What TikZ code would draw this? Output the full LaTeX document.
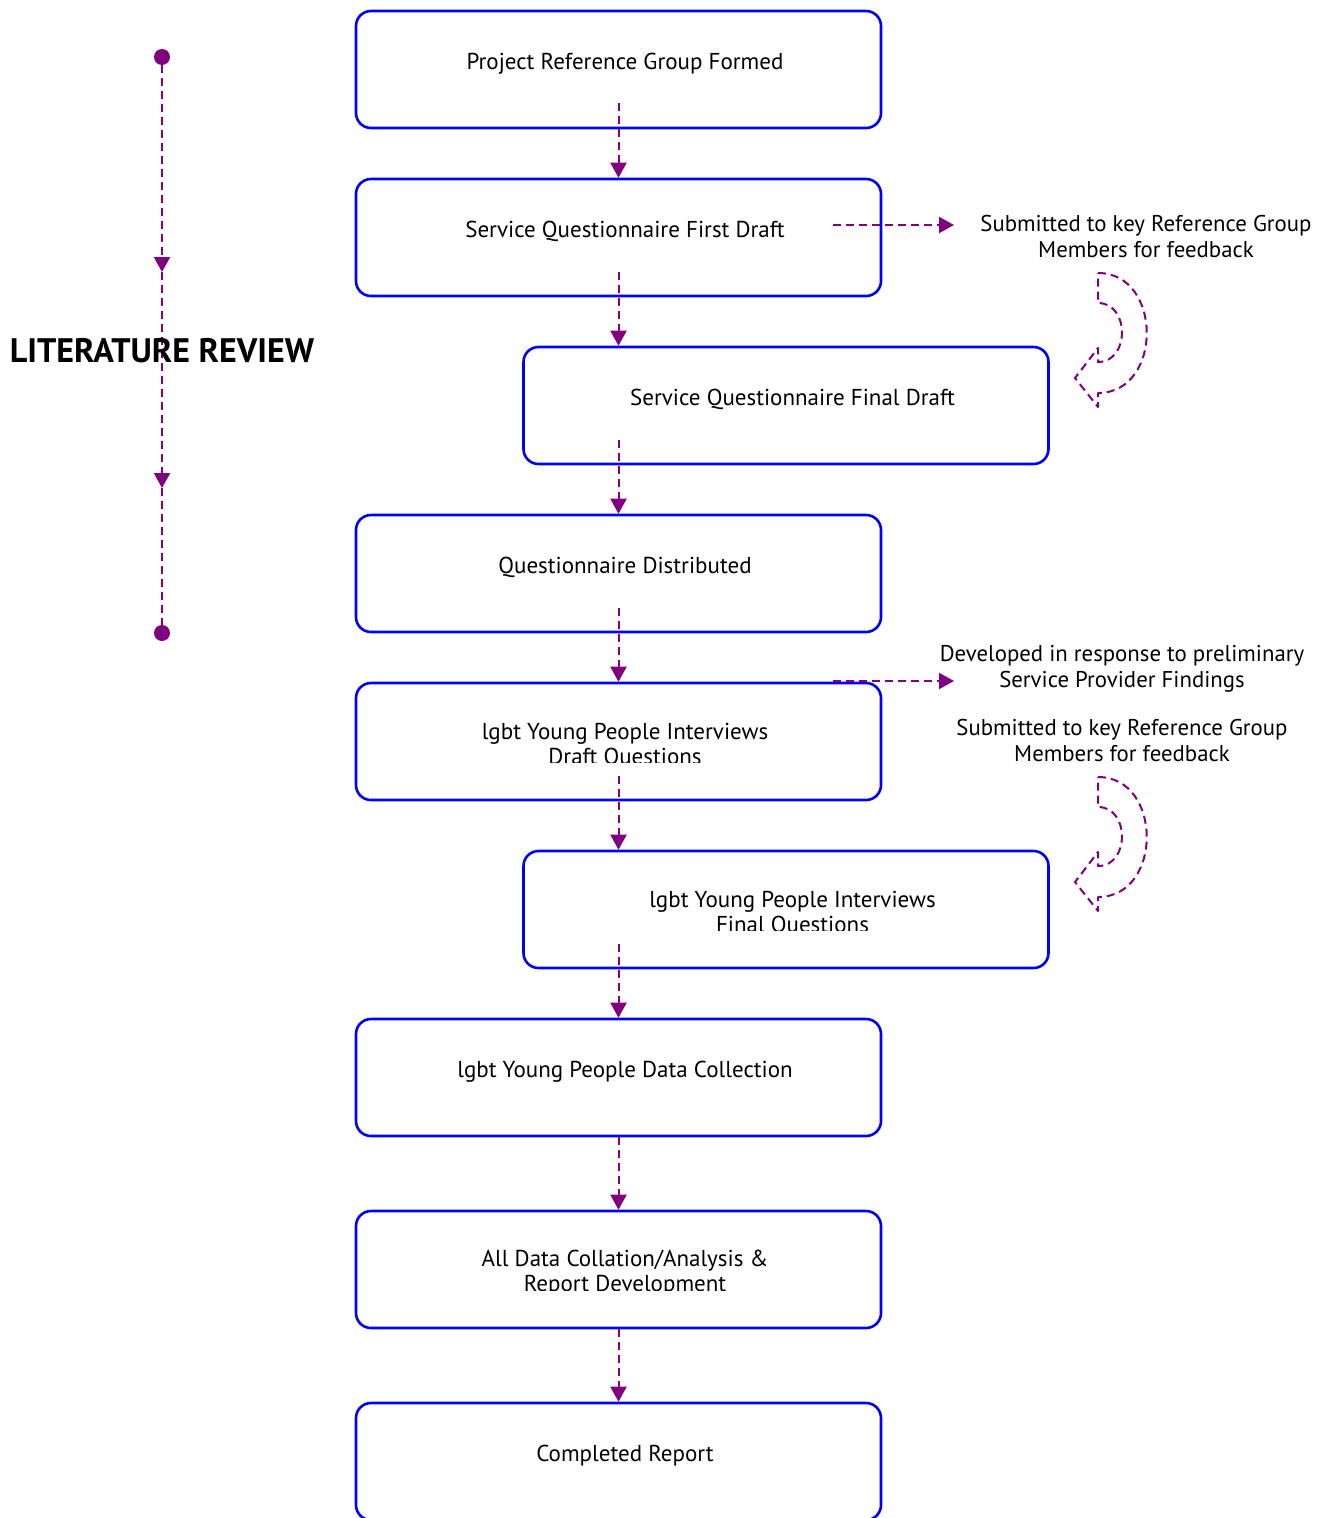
\documentclass[tikz,border=0pt]{standalone}
\usepackage{fontspec}
\setmainfont{PT Sans}
\usetikzlibrary{arrows.meta,calc}
\definecolor{boxblue}{RGB}{0,0,255}
\definecolor{flowpurple}{RGB}{128,0,128}
\begin{document}
\begin{tikzpicture}[x=1pt,y=-1pt,
  stagebox/.style={draw=boxblue,line width=2.6pt,rounded corners=15pt,minimum width=525pt,minimum height=117pt,inner sep=0pt},
  flow/.style={draw=flowpurple,line width=2pt,dash pattern=on 8pt off 5pt,-{Triangle[length=15pt,width=16pt]}},
  plainflow/.style={draw=flowpurple,line width=2pt,dash pattern=on 8pt off 5pt},
  lbl/.style={font=\fontsize{23}{25}\selectfont,align=center,inner sep=0pt},
  sidelbl/.style={font=\fontsize{22.8}{26}\selectfont,align=center,inner sep=0pt},
  bigt/.style={font=\fontsize{34}{38}\selectfont\bfseries,inner sep=0pt},
  curvy/.style={draw=flowpurple,line width=2pt,dash pattern=on 8pt off 5pt,line join=round},
  enddot/.style={circle,fill=flowpurple,minimum size=16pt,inner sep=0pt}
]
\clip (0,0) rectangle (1318,1518);
\fill[white] (0,0) rectangle (1318,1518);

% boxes
\node[stagebox] (b1) at (618.5,69.5) {};
\node[stagebox] (b2) at (618.5,237.5) {};
\node[stagebox] (b3) at (786,405.5) {};
\node[stagebox] (b4) at (618.5,573.5) {};
\node[stagebox] (b5) at (618.5,741.5) {};
\node[stagebox] (b6) at (786,909.5) {};
\node[stagebox] (b7) at (618.5,1077.5) {};
\node[stagebox] (b8) at (618.5,1269.5) {};
\node[stagebox] (b9) at (618.5,1461.5) {};

% texts
\node[lbl] (t1) at ($(b1.center)+(6.5,-6)$) {Project Reference Group Formed};
\node[lbl] (t2) at ($(b2.center)+(6.5,-6)$) {Service Questionnaire First Draft};
\node[lbl] (t3) at ($(b3.center)+(6.5,-6)$) {Service Questionnaire Final Draft};
\node[lbl] (t4) at ($(b4.center)+(6.5,-6)$) {Questionnaire Distributed};
\begin{scope}
\clip (357,684) rectangle (880,762);
\node[lbl] (t5) at ($(b5.center)+(6.5,4)$) {lgbt Young People Interviews\\Draft Questions};
\end{scope}
\begin{scope}
\clip (524,852) rectangle (1048,930);
\node[lbl] (t6) at ($(b6.center)+(6.5,4)$) {lgbt Young People Interviews\\Final Questions};
\end{scope}
\node[lbl] (t7) at ($(b7.center)+(6.5,-6)$) {lgbt Young People Data Collection};
\begin{scope}
\clip (357,1212) rectangle (880,1290);
\node[lbl] (t8) at ($(b8.center)+(6.5,4)$) {All Data Collation/Analysis \&\\Report Development};
\end{scope}
\node[lbl] (t9) at ($(b9.center)+(6.5,-6)$) {Completed Report};

% vertical flow arrows
\draw[flow] ($(b1.south)+(0,-26)$) -- (b2.north);
\draw[flow] ($(b2.south)+(0,-25)$) -- (b2.south |- b3.north);
\draw[flow] ($(b4.north |- b3.south)+(0,-25)$) -- (b4.north);
\draw[flow] ($(b4.south)+(0,-25)$) -- (b5.north);
\draw[flow] ($(b5.south)+(0,-25)$) -- (b5.south |- b6.north);
\draw[flow] ($(b7.north |- b6.south)+(0,-25)$) -- (b7.north);
\draw[flow] (b7.south) -- (b8.north);
\draw[flow] (b8.south) -- (b9.north);

% side notes
\node[sidelbl] (r1) at (1146,237) {Submitted to key Reference Group\\Members for feedback};
\node[sidelbl] (r2) at (1122,669) {Developed in response to preliminary\\Service Provider Findings};
\node[sidelbl] (r3) at (1122,741) {Submitted to key Reference Group\\Members for feedback};

\coordinate (h1s) at (833,225);
\coordinate (h1e) at (954,225);
\coordinate (h2s) at (833,681);
\coordinate (h2e) at (954,681);
\draw[flow] (h1s) -- (h1e);
\draw[flow] (h2s) -- (h2e);

% curved feedback arrows
\foreach \dy in {0,504}{
  \draw[curvy] (1098,273+\dy) .. controls (1163,273+\dy) and (1163,393+\dy) .. (1098,393+\dy)
    -- (1098,407+\dy) -- (1075,378+\dy) -- (1098,348+\dy) -- (1098,362+\dy)
    .. controls (1130,362+\dy) and (1130,303+\dy) .. (1098,303+\dy) -- cycle;
}

% literature review timeline
\node[enddot] (d1) at (162,57) {};
\node[enddot] (d2) at (162,633) {};
\coordinate (m1) at (162,272);
\coordinate (m2) at (162,488);
\draw[flow] (d1) -- (m1);
\draw[flow] (m1) -- (m2);
\draw[plainflow] (m2) -- (d2);
\node[bigt] (lr) at (162,351) {LITERATURE REVIEW};
\end{tikzpicture}
\end{document}
